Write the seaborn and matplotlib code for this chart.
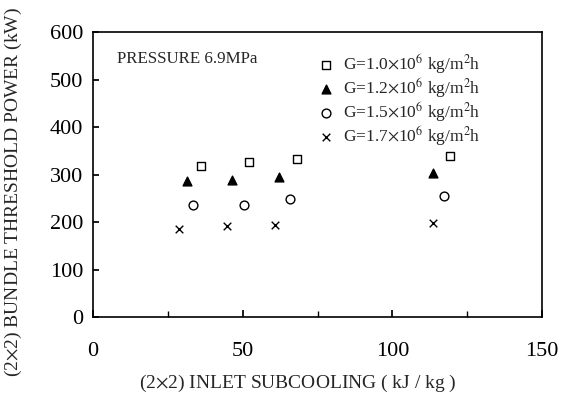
import numpy as np
import pandas as pd
import matplotlib
matplotlib.use("Agg")
import matplotlib.pyplot as plt
from matplotlib.ticker import MultipleLocator
import seaborn as sns

sub_g10 = [36.1, 52.3, 68.1, 119.2]
pow_g10 = [318, 326, 333, 340]
sub_g12 = [31.3, 46.6, 62.2, 113.5]
pow_g12 = [287, 288, 295, 304]
sub_g15 = [33.5, 50.4, 65.9, 117.2]
pow_g15 = [236, 237, 248, 255]
sub_g17 = [28.9, 44.7, 60.9, 113.5]
pow_g17 = [185, 192, 193, 199]

labels = [r"G=1.0$\times$10$^{6}$ kg/m$^{2}$h",
          r"G=1.2$\times$10$^{6}$ kg/m$^{2}$h",
          r"G=1.5$\times$10$^{6}$ kg/m$^{2}$h",
          r"G=1.7$\times$10$^{6}$ kg/m$^{2}$h"]

sns.set_theme(style="ticks")
plt.rcParams["font.family"] = ["Liberation Serif", "DejaVu Serif"]
plt.rcParams["mathtext.fontset"] = "stix"

series = [(sub_g10, pow_g10, "s", "white"),
          (sub_g12, pow_g12, "^", "black"),
          (sub_g15, pow_g15, "o", "white"),
          (sub_g17, pow_g17, "x", "black")]

fig, ax = plt.subplots(figsize=(5.69, 3.96), dpi=100)
fig.subplots_adjust(left=0.163, right=0.953, top=0.919, bottom=0.199)

for (xs, ys, m, fc), lab in zip(series, labels):
    df = pd.DataFrame({"x": xs, "y": ys})
    if m == "x":
        sns.scatterplot(data=df, x="x", y="y", marker=m, color="black",
                        s=30, linewidth=1.0, label=lab, ax=ax)
    else:
        sns.scatterplot(data=df, x="x", y="y", marker=m, facecolor=fc,
                        edgecolor="black", s=40, linewidth=1.0, label=lab, ax=ax)

ax.set_xlim(0, 150)
ax.set_ylim(0, 600)
ax.xaxis.set_major_locator(MultipleLocator(50))
ax.xaxis.set_minor_locator(MultipleLocator(25))
ax.yaxis.set_major_locator(MultipleLocator(100))
ax.tick_params(axis="both", which="both", direction="in", labelsize=16,
               color="black", labelcolor="black")
ax.tick_params(axis="x", which="major", length=5, pad=18)
ax.tick_params(axis="x", which="minor", length=4)
ax.tick_params(axis="y", length=4, pad=7)
for sp in ax.spines.values():
    sp.set_color("black")
    sp.set_linewidth(1.2)

ax.set_xlabel(r"(2$\times$2) INLET SUBCOOLING ( kJ / kg )", fontsize=14)
ax.set_ylabel(r"(2$\times$2) BUNDLE THRESHOLD POWER (kW)", fontsize=14)
ax.xaxis.set_label_coords(0.457, -0.195)
ax.yaxis.set_label_coords(-0.152, 0.44)

ax.text(0.055, 0.905, "PRESSURE 6.9MPa", transform=ax.transAxes, fontsize=12.2,
        va="center", ha="left")

ax.legend(loc="upper left", bbox_to_anchor=(0.48, 0.955), frameon=False,
          fontsize=12.5, handlelength=1.2, handletextpad=0.4, labelspacing=0.0,
          borderaxespad=0)

fig.savefig("out.png", dpi=100, facecolor="white")
